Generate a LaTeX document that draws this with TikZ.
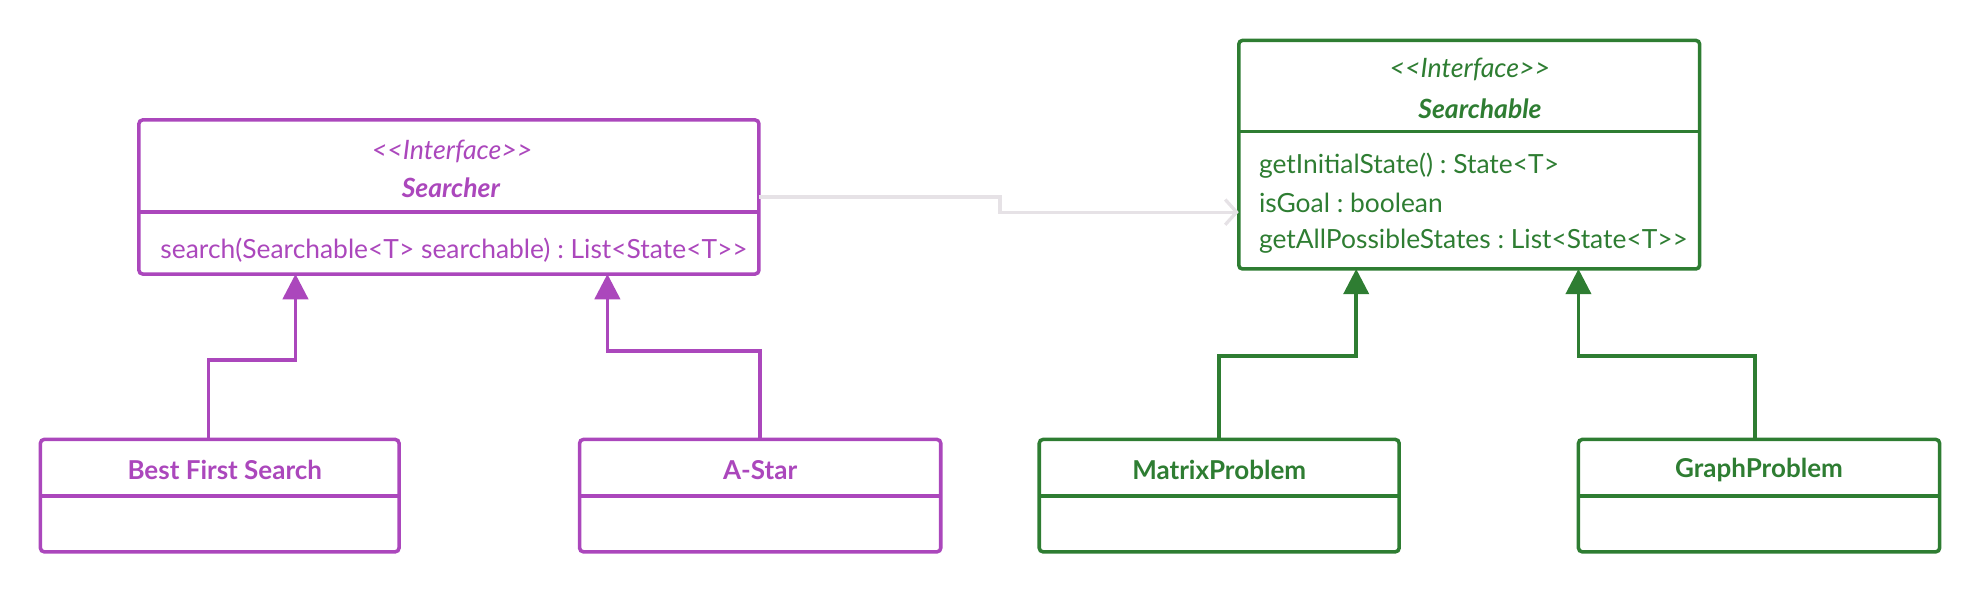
\documentclass[tikz,border=0pt]{standalone}
\usepackage{fontspec}
\setmainfont{Lato}
\usetikzlibrary{arrows.meta}
\definecolor{pur}{HTML}{AB47BC}
\definecolor{grn}{HTML}{2E7D32}
\definecolor{gry}{HTML}{E6E2E6}
\frenchspacing
\begin{document}
\begin{tikzpicture}[x=0.5pt,y=-0.5pt,
  box/.style={draw, line width=1.4pt, rounded corners=1.5pt, inner sep=0pt, outer sep=0pt},
  divider/.style={line width=1.4pt},
  stereo/.style={font=\fontsize{10.6pt}{12pt}\selectfont\itshape},
  iname/.style={font=\fontsize{10.5pt}{12pt}\selectfont\bfseries\itshape},
  cname/.style={font=\fontsize{10.3pt}{12pt}\selectfont\bfseries},
  member/.style={font=\fontsize{10.45pt}{12pt}\selectfont, anchor=west},
  inh/.style={line width=1.4pt, -{Triangle[width=10pt,length=10pt]}},
  dep/.style={gry, line width=1.3pt, -{Straight Barb[length=4.5pt,width=10pt,line width=1.3pt]}}]
\useasboundingbox (0,0) rectangle (1568,470.4);

% Searcher interface
\node[box, draw=pur, minimum width=245.5pt, minimum height=61pt] (srch) at (355.5,156) {};
\draw[divider, pur] (srch.west |- 0,168) -- (srch.east |- 0,168);
\node[stereo, text=pur] (srchst) at (358,120) {<{}<Interface>{}>};
\node[iname, text=pur] (srchnm) at (357,149) {Searcher};
\node[member, text=pur] (srchm) at (120,198) {search(Searchable<T> searchable) : List<State<T>{}>};

% Searchable interface
\node[box, draw=grn, minimum width=182.5pt, minimum height=90.5pt] (sbl) at (1163.5,122.5) {};
\draw[divider, grn] (sbl.west |- 0,104) -- (sbl.east |- 0,104);
\node[stereo, text=grn] (sblst) at (1164,55) {<{}<Interface>{}>};
\node[iname, text=grn] (sblnm) at (1172,86) {Searchable};
\node[member, text=grn] (sblm1) at (990,131) {getInitialState() : State<T>};
\node[member, text=grn] (sblm2) at (990,161) {isGoal : boolean};
\node[member, text=grn] (sblm3) at (990,191) {getAllPossibleStates : List<State<T>{}>};

% Classes
\node[box, draw=pur, minimum width=142pt, minimum height=44.5pt] (bfs) at (174,392.5) {};
\draw[divider, pur] (bfs.west |- 0,393) -- (bfs.east |- 0,393);
\node[cname, text=pur] (bfsnm) at (178,372) {Best First Search};

\node[box, draw=pur, minimum width=143pt, minimum height=44.5pt] (astar) at (602,392.5) {};
\draw[divider, pur] (astar.west |- 0,393) -- (astar.east |- 0,393);
\node[cname, text=pur] (astarnm) at (602,372) {A-Star};

\node[box, draw=grn, minimum width=142.5pt, minimum height=44.5pt] (mat) at (965.5,392.5) {};
\draw[divider, grn] (mat.west |- 0,393) -- (mat.east |- 0,393);
\node[cname, text=grn] (matnm) at (965.5,372) {MatrixProblem};

\node[box, draw=grn, minimum width=143pt, minimum height=44.5pt] (gra) at (1393,392.5) {};
\draw[divider, grn] (gra.west |- 0,393) -- (gra.east |- 0,393);
\node[cname, text=grn] (granm) at (1393,372) {GraphProblem};

% Inheritance connectors
\draw[inh, pur] (bfs.north -| 165,0) -- (165,285) -- (234,285) -- (srch.south -| 234,0);
\draw[inh, pur] (astar.north) -- (602,278) -- (481,278) -- (srch.south -| 481,0);
\draw[inh, grn] (mat.north) -- (965.5,282) -- (1074,282) -- (sbl.south -| 1074,0);
\draw[inh, grn] (gra.north -| 1390,0) -- (1390,282) -- (1250,282) -- (sbl.south -| 1250,0);

% Dependency
\draw[dep] (srch.east) -- (792,156) -- (792,168) -- (sbl.west |- 0,168);
\end{tikzpicture}
\end{document}
